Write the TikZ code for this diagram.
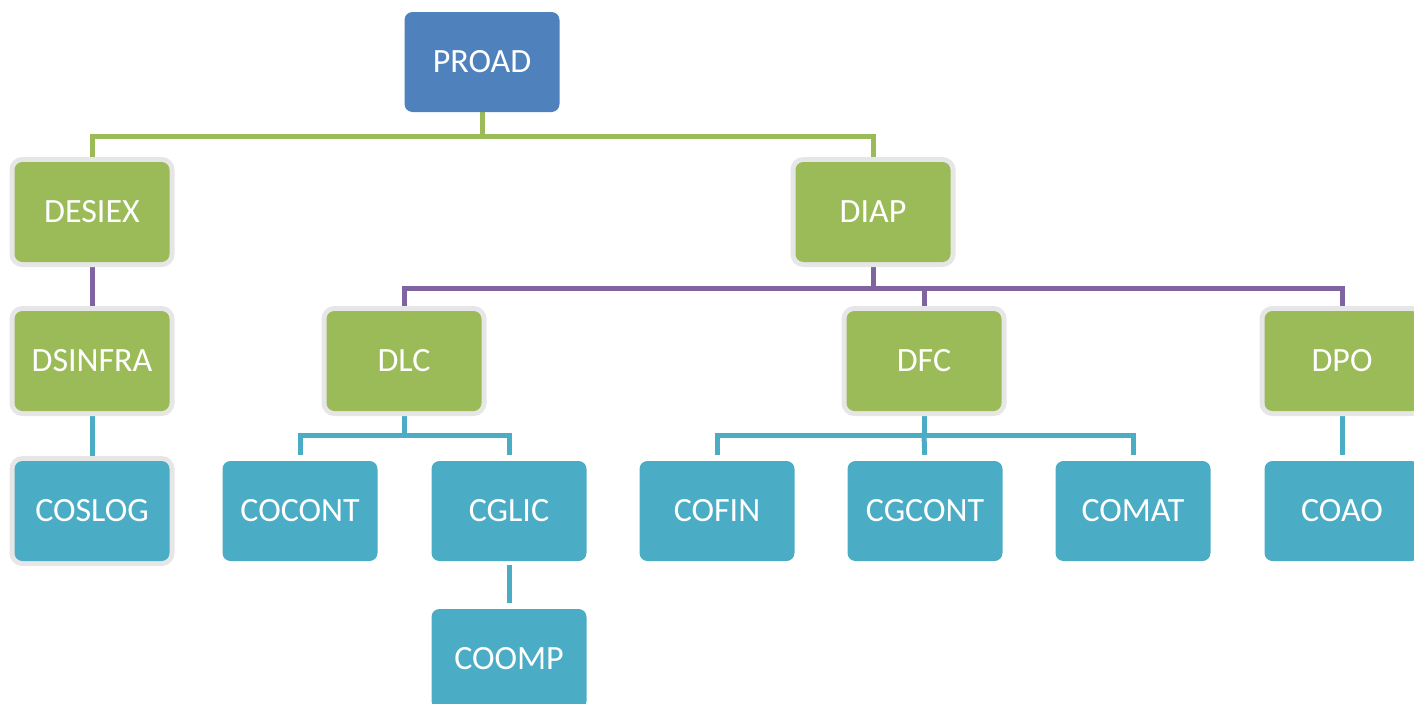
\documentclass[tikz,border=0pt]{standalone}
\usepackage{fontspec}
\setmainfont{Carlito}
\usetikzlibrary{backgrounds}
\definecolor{cblue}{HTML}{4F81BD}
\definecolor{cgreen}{HTML}{9BBB59}
\definecolor{cteal}{HTML}{4BACC6}
\definecolor{cpurple}{HTML}{8064A2}
\definecolor{cgray}{HTML}{E6E6E6}
\tikzset{
  box/.style={rectangle, rounded corners=8pt, minimum width=155pt, minimum height=100pt, inner sep=0pt,
    text=white, font=\fontsize{34}{40}\selectfont},
  ringed/.style={preaction={draw=cgray, line width=10pt, rounded corners=9pt}},
  topbox/.style={box, fill=cblue},
  greenbox/.style={box, fill=cgreen, ringed},
  tealbox/.style={box, fill=cteal},
  tealring/.style={box, fill=cteal, ringed},
  gline/.style={draw=cgreen, line width=5pt},
  pline/.style={draw=cpurple, line width=5pt},
  tline/.style={draw=cteal, line width=5pt},
}
\begin{document}
\begin{tikzpicture}[x=1pt, y=-1pt]
\useasboundingbox (0,0) rectangle (1414,704);
\clip (0,0) rectangle (1414,704);
\node[topbox] (PROAD) at (482,62) {PROAD};
\node[greenbox] (DESIEX) at (92,212) {DESIEX};
\node[greenbox] (DIAP) at (873,212) {DIAP};
\node[greenbox] (DSINFRA) at (92,361) {DSINFRA};
\node[greenbox] (DLC) at (404,361) {DLC};
\node[greenbox] (DFC) at (924,361) {DFC};
\node[greenbox] (DPO) at (1342,361) {DPO};
\node[tealring] (COSLOG) at (92,511) {COSLOG};
\node[tealbox] (COCONT) at (300,511) {COCONT};
\node[tealbox] (CGLIC) at (509,511) {CGLIC};
\node[tealbox] (COOMP) at (509,659) {COOMP};
\node[tealbox] (COFIN) at (717,511) {COFIN};
\node[tealbox] (CGCONT) at (925,511) {CGCONT};
\node[tealbox] (COMAT) at (1133,511) {COMAT};
\node[tealbox] (COAO) at (1342,511) {COAO};
\begin{scope}[on background layer]
  \draw[gline] (PROAD.south) -- ++(0,24) coordinate (j1);
  \draw[gline] (DESIEX.north) |- (j1) -| (DIAP.north);
  \draw[pline] (DESIEX.south) -- (DSINFRA.north);
  \draw[pline] (DIAP.south) -- ++(0,26) coordinate (j2);
  \draw[pline] (DLC.north) |- (j2) -| (DPO.north);
  \draw[pline] (j2) -| (DFC.north);
  \draw[tline] (DSINFRA.south) -- (COSLOG.north);
  \draw[tline] (DLC.south) -- ++(0,24) coordinate (j3);
  \draw[tline, shorten <=6pt, shorten >=6pt] (COCONT.north) |- (j3) -| (CGLIC.north);
  \draw[tline, shorten <=4pt, shorten >=6pt] (CGLIC.south) -- (COOMP.north);
  \draw[tline] (DFC.south) -- ++(0,24) coordinate (j4);
  \draw[tline, shorten <=6pt, shorten >=6pt] (COFIN.north) |- (j4) -| (COMAT.north);
  \draw[tline, shorten >=6pt] (j4) -- (CGCONT.north);
  \draw[tline, shorten >=6pt] (DPO.south) -- (COAO.north);
\end{scope}
\end{tikzpicture}
\end{document}
